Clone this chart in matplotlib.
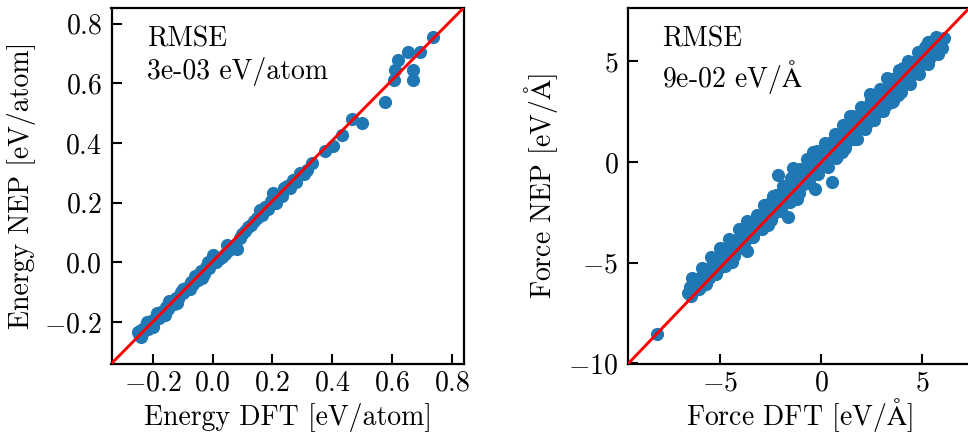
import matplotlib
matplotlib.use("Agg")
import matplotlib.pyplot as plt
from matplotlib.ticker import FuncFormatter, MultipleLocator

plt.rcParams["font.family"] = "serif"
plt.rcParams["font.serif"] = ["cmr10"]
plt.rcParams["mathtext.fontset"] = "cm"
plt.rcParams["axes.unicode_minus"] = False
plt.rcParams["axes.formatter.use_mathtext"] = True
plt.rcParams["font.size"] = 20

# ---- energy per atom: DFT reference vs NEP prediction ----
energy_dft = [
    -0.245, -0.240, -0.232, -0.225, -0.215, -0.205, -0.198, -0.190, -0.180, -0.172,
    -0.165, -0.155, -0.148, -0.140, -0.130, -0.122, -0.115, -0.105, -0.098, -0.090,
    -0.080, -0.072, -0.065, -0.055, -0.048, -0.040, -0.030, -0.022, -0.012, -0.005,
    0.002, 0.010, 0.020, 0.030, 0.040, 0.047, 0.055, 0.065, 0.080, 0.090,
    0.100, 0.110, 0.120, 0.130, 0.140, 0.150, 0.158, 0.165, 0.175, 0.185,
    0.195, 0.203, 0.212, 0.222, 0.232, 0.240, 0.248, 0.258, 0.270, 0.280,
    0.292, 0.305, 0.315, 0.331, 0.376, 0.404, 0.432, 0.465, 0.499, 0.577,
    0.605, 0.610, 0.621, 0.655, 0.669, 0.671, 0.692, 0.738,
    -0.250, -0.238, -0.220, -0.200, -0.185, -0.160, -0.145, -0.120, -0.100, -0.075,
    -0.060, -0.035, -0.015,
]
energy_nep = [
    -0.240, -0.225, -0.235, -0.215, -0.222, -0.198, -0.205, -0.182, -0.188, -0.165,
    -0.172, -0.150, -0.155, -0.132, -0.138, -0.118, -0.122, -0.100, -0.104, -0.085,
    -0.088, -0.066, -0.072, -0.050, -0.058, -0.030, -0.038, -0.015, -0.020, 0.003,
    0.026, 0.000, 0.012, 0.018, 0.028, 0.059, 0.040, 0.055, 0.045, 0.082,
    0.095, 0.105, 0.118, 0.125, 0.138, 0.150, 0.177, 0.160, 0.185, 0.178,
    0.205, 0.233, 0.200, 0.225, 0.222, 0.250, 0.255, 0.248, 0.277, 0.270,
    0.300, 0.295, 0.311, 0.333, 0.372, 0.389, 0.428, 0.482, 0.467, 0.537,
    0.612, 0.646, 0.679, 0.705, 0.612, 0.646, 0.705, 0.755,
    -0.232, -0.250, -0.200, -0.218, -0.168, -0.178, -0.128, -0.135, -0.088, -0.090,
    -0.045, -0.052, 0.000,
]

# ---- force components: DFT reference vs NEP prediction ----
force_dft = [
    -8.15,
    -6.58, -6.50, -6.35, -6.20, -6.05, -5.95, -5.84, -5.75, -5.62, -5.50,
    -5.40, -5.30, -5.18, -5.05, -4.95, -4.85, -4.72, -4.60, -4.50, -4.43,
    -4.35, -4.25, -4.12, -4.00, -3.92, -3.80, -3.68, -3.60, -3.50, -3.42,
    -3.30, -3.20, -3.12, -3.00, -2.90, -2.80, -2.70, -2.61, -2.55, -2.45,
    -2.35, -2.25, -2.15, -2.12, -2.05, -1.95, -1.85, -1.75, -1.62, -1.55,
    -1.45, -1.37, -1.30, -1.20, -1.12, -1.00, -0.92, -0.80, -0.71, -0.65,
    -0.55, -0.45, -0.38, -0.30, -0.25, -0.15, -0.05, 0.05, 0.15, 0.25,
    0.35, 0.45, 0.53, 0.60, 0.65, 0.75, 0.85, 0.95, 1.05, 1.15,
    1.25, 1.35, 1.44, 1.50, 1.60, 1.70, 1.77, 1.85, 1.95, 2.05,
    2.10, 2.20, 2.30, 2.43, 2.50, 2.60, 2.70, 2.80, 2.90, 3.00,
    3.10, 3.20, 3.26, 3.35, 3.45, 3.58, 3.65, 3.75, 3.83, 3.90,
    4.00, 4.08, 4.15, 4.25, 4.35, 4.45, 4.58, 4.65, 4.75, 4.85,
    4.95, 5.05, 5.16, 5.25, 5.35, 5.49, 5.55, 5.65, 5.75, 5.85,
    5.98, 6.07,
    # upper side of the band
    -6.40, -5.90, -5.45, -5.00, -4.55, -4.05, -3.65, -2.85, -2.40, -1.90,
    -1.50, -1.05, -0.20, 0.20, 0.70, 1.10, 1.55, 2.00, 2.45, 2.90,
    3.40, 3.85, 4.30, 4.80, 5.30, 5.70,
    -6.30, -5.80, -5.35, -4.90, -4.45, -3.95, -3.55, -3.10, -2.65, -2.20,
    -1.75, -1.25, -0.85, -0.40, 0.05, 0.50, 0.95, 1.40, 1.85, 2.30,
    2.75, 3.20, 3.65, 4.10, 4.55, 5.00, 5.45, 5.90,
    # lower side of the band
    -5.70, -5.20, -4.75, -4.30, -3.85, -3.35, -2.95, -2.50, -2.00, -1.55,
    -1.10, -0.60, -0.15, 0.30, 0.80, 1.20, 1.65, 2.15, 2.60, 3.05,
    3.50, 3.95, 4.40, 4.85, 5.30, 5.80,
    -6.45, -6.00, -5.55, -5.10, -4.65, -4.20, -3.75, -3.30, -2.85, -2.40,
    -1.90, -1.40, -0.95, -0.50, -0.05, 0.40, 0.90, 1.40, 1.90, 2.35,
    2.85, 3.30, 3.75, 4.20, 4.70, 5.15, 5.65,
]
force_nep = [
    -8.54,
    -6.50, -6.20, -6.40, -5.90, -6.30, -5.70, -6.10, -5.40, -5.70, -5.25,
    -5.55, -4.95, -5.20, -4.70, -5.05, -4.55, -4.80, -4.25, -4.65, -4.98,
    -4.05, -4.35, -3.85, -4.15, -3.60, -3.95, -4.45, -3.35, -3.70, -3.15,
    -3.45, -2.65, -3.05, -2.70, -3.10, -2.45, -2.85, -3.15, -2.05, -2.55,
    -2.10, -1.65, -2.40, -0.65, -1.80, -2.05, -1.45, -1.95, -2.75, -1.20,
    -1.60, -0.30, -0.95, -1.85, -1.25, -0.55, -1.05, -0.35, 0.15, -0.85,
    -0.20, -0.60, 0.50, -1.35, 0.05, -0.35, 0.35, -0.20, 0.55, 0.05,
    -0.25, 0.80, -1.00, 1.05, 0.40, 0.20, 1.20, 0.75, 0.50, 1.55,
    0.95, 1.70, 2.30, 1.25, 1.95, 1.40, 1.15, 2.30, 1.75, 2.55,
    2.10, 1.85, 2.80, 3.40, 2.35, 3.05, 2.45, 3.20, 2.75, 3.45,
    3.00, 2.85, 4.15, 3.65, 3.25, 3.05, 3.95, 4.20, 3.35, 3.75,
    4.35, 4.65, 3.90, 4.45, 4.10, 4.80, 4.90, 4.45, 5.00, 4.70,
    5.20, 4.90, 5.70, 5.30, 5.10, 5.95, 5.55, 5.85, 5.50, 6.05,
    5.64, 6.14,
    # upper side of the band
    -5.75, -5.25, -4.75, -4.30, -3.85, -3.35, -2.95, -2.15, -1.70, -1.20,
    -0.80, -0.35, 0.55, 0.95, 1.40, 1.85, 2.30, 2.75, 3.15, 3.60,
    4.10, 4.55, 5.00, 5.45, 5.95, 6.20,
    -5.90, -5.40, -4.95, -4.50, -4.05, -3.55, -3.15, -2.70, -2.25, -1.80,
    -1.35, -0.85, -0.45, 0.00, 0.45, 0.90, 1.35, 1.80, 2.25, 2.70,
    3.15, 3.60, 4.05, 4.50, 4.95, 5.40, 5.85, 6.05,
    # lower side of the band
    -6.05, -5.55, -5.15, -4.70, -4.25, -3.75, -3.35, -2.90, -2.45, -2.00,
    -1.55, -1.05, -0.60, -0.15, 0.30, 0.70, 1.15, 1.65, 2.10, 2.55,
    3.00, 3.45, 3.85, 4.35, 4.85, 5.35,
    -6.65, -6.20, -5.75, -5.30, -4.85, -4.40, -3.95, -3.50, -3.05, -2.60,
    -2.10, -1.60, -1.15, -0.70, -0.25, 0.20, 0.70, 1.20, 1.70, 2.15,
    2.65, 3.10, 3.55, 4.00, 4.50, 4.95, 5.45,
]

energy_xlim = (-0.338, 0.839)
energy_ylim = (-0.339, 0.853)
force_xlim = (-9.55, 7.34)
force_ylim = (-10.02, 7.65)

energy_rmse_text = "RMSE\n3e-03 eV/atom"
force_rmse_text = "RMSE\n9e-02 eV/$\\mathrm{\\AA}$"

W, H = 968, 436
fig = plt.figure(figsize=(W / 100, H / 100), dpi=100)
ax_e = fig.add_axes([111.5 / W, (H - 363.5) / H, 352 / W, 355.5 / H])
ax_f = fig.add_axes([628.3 / W, (H - 363.5) / H, 341 / W, 355.5 / H])

blue = "#1f77b4"


def fmt1(v, _):
    if abs(v) < 1e-9:
        v = 0.0
    return f"${v:.1f}$"


def fmt0(v, _):
    if abs(v) < 1e-9:
        v = 0.0
    return f"${v:.0f}$"


panels = [
    (ax_e, energy_dft, energy_nep, energy_xlim, energy_ylim, 0.2, fmt1,
     "Energy DFT [eV/atom]", "Energy NEP [eV/atom]", energy_rmse_text),
    (ax_f, force_dft, force_nep, force_xlim, force_ylim, 5, fmt0,
     "Force DFT [eV/$\\mathrm{\\AA}$]", "Force NEP [eV/$\\mathrm{\\AA}$]", force_rmse_text),
]

for ax, xs, ys, xl, yl, step, fmt, xlab, ylab, txt in panels:
    ax.scatter(xs, ys, s=90, color=blue, linewidths=0, zorder=2)
    ax.plot([xl[0], xl[1]], [yl[0], yl[1]], color="red", lw=2.1, zorder=3)
    ax.set_xlim(xl)
    ax.set_ylim(yl)
    ax.xaxis.set_major_locator(MultipleLocator(step))
    ax.yaxis.set_major_locator(MultipleLocator(step))
    ax.xaxis.set_major_formatter(FuncFormatter(fmt))
    ax.yaxis.set_major_formatter(FuncFormatter(fmt))
    ax.tick_params(direction="in", length=7.5, width=1.5, labelsize=20)
    ax.tick_params(axis="x", pad=5)
    ax.tick_params(axis="y", pad=7)
    for sp in ax.spines.values():
        sp.set_linewidth(1.6)
    ax.set_xlabel(xlab, fontsize=20, va="baseline")
    ax.xaxis.set_label_coords(0.5, -0.173)
    ax.set_ylabel(ylab, fontsize=20, labelpad=6)
    ax.text(0.10, 0.95, txt, transform=ax.transAxes, ha="left", va="top",
            fontsize=20, linespacing=1.2)

fig.savefig("out.png", dpi=100)
